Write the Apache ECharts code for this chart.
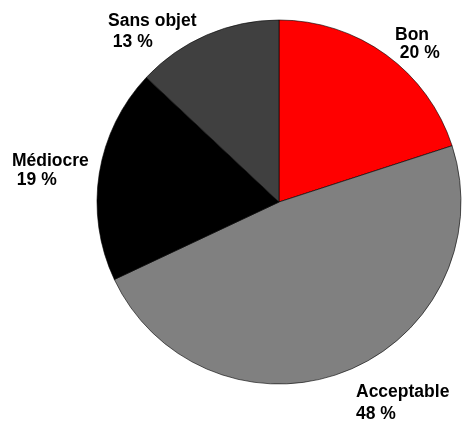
<!DOCTYPE html>
<html><head><meta charset="utf-8">
<script src="https://cdn.jsdelivr.net/npm/echarts@6/dist/echarts.min.js"></script>
<style>html,body{margin:0;padding:0;background:#fff}#c{width:462px;height:421px}</style>
</head><body><div id="c"></div>
<script>
const categories = ['Bon', 'Acceptable', 'Médiocre', 'Sans objet'];
const values = [20, 48, 19, 13];
const colors = ['#ff0000', '#808080', '#000000', '#404040'];
const labelPos = [[395, 26, 18, ' '], [356, 381, 22, ''], [12, 152, 19, ' '], [108, 10.5, 21, ' ']];

const chart = echarts.init(document.getElementById('c'), null, {renderer: 'canvas'});
chart.setOption({
  animation: false,
  backgroundColor: '#fff',
  series: [{
    type: 'pie',
    center: [279, 202],
    radius: 182,
    startAngle: 90,
    clockwise: true,
    avoidLabelOverlap: false,
    labelLine: {show: false},
    itemStyle: {borderColor: '#000', borderWidth: 0.6},
    emphasis: {disabled: true},
    data: categories.map((c, i) => ({
      name: c, value: values[i],
      itemStyle: {color: colors[i]},
      label: {lineHeight: labelPos[i][2], formatter: '{b}\n' + labelPos[i][3] + '{c} %'}
    })),
    label: {
      show: true, position: 'outside',
      fontFamily: 'Liberation Sans, Arial, sans-serif',
      fontWeight: 'bold', fontSize: 17.5, color: '#000', align: 'left'
    },
    labelLayout: (p) => ({x: labelPos[p.dataIndex][0], y: labelPos[p.dataIndex][1], align: 'left', verticalAlign: 'top'})
  }]
});
</script></body></html>
